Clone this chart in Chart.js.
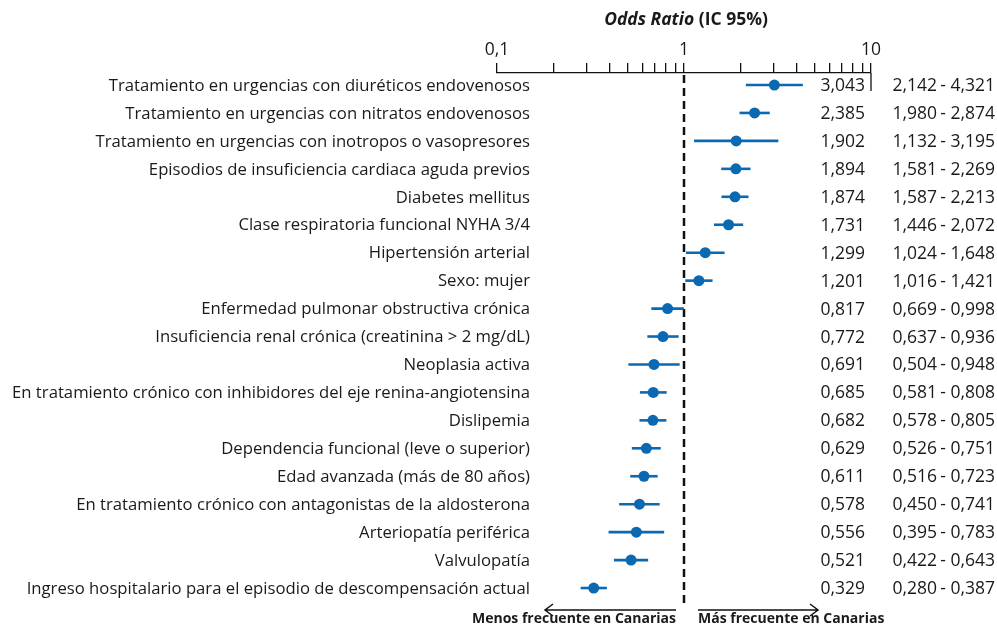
<!DOCTYPE html>
<html>
<head>
<meta charset="utf-8">
<script src="https://cdn.jsdelivr.net/npm/chart.js@4/dist/chart.umd.min.js"></script>
<style>
  html, body { margin: 0; padding: 0; background: #fff; }
  #wrap { width: 997px; height: 628px; position: relative; }
</style>
</head>
<body>
<div id="wrap"><canvas id="forest"></canvas></div>
<script>
// Datos del gráfico
const factores = [
  'Tratamiento en urgencias con diuréticos endovenosos',
  'Tratamiento en urgencias con nitratos endovenosos',
  'Tratamiento en urgencias con inotropos o vasopresores',
  'Episodios de insuficiencia cardiaca aguda previos',
  'Diabetes mellitus',
  'Clase respiratoria funcional NYHA 3/4',
  'Hipertensión arterial',
  'Sexo: mujer',
  'Enfermedad pulmonar obstructiva crónica',
  'Insuficiencia renal crónica (creatinina > 2 mg/dL)',
  'Neoplasia activa',
  'En tratamiento crónico con inhibidores del eje renina-angiotensina',
  'Dislipemia',
  'Dependencia funcional (leve o superior)',
  'Edad avanzada (más de 80 años)',
  'En tratamiento crónico con antagonistas de la aldosterona',
  'Arteriopatía periférica',
  'Valvulopatía',
  'Ingreso hospitalario para el episodio de descompensación actual'
];
const oddsRatio = [3.043, 2.385, 1.902, 1.894, 1.874, 1.731, 1.299, 1.201, 0.817, 0.772, 0.691, 0.685, 0.682, 0.629, 0.611, 0.578, 0.556, 0.521, 0.329];
const icInferior = [2.142, 1.980, 1.132, 1.581, 1.587, 1.446, 1.024, 1.016, 0.669, 0.637, 0.504, 0.581, 0.578, 0.526, 0.516, 0.450, 0.395, 0.422, 0.280];
const icSuperior = [4.321, 2.874, 3.195, 2.269, 2.213, 2.072, 1.648, 1.421, 0.998, 0.936, 0.948, 0.808, 0.805, 0.751, 0.723, 0.741, 0.783, 0.643, 0.387];
const ticksEje = [0.1, 0.2, 0.3, 0.4, 0.5, 0.6, 0.7, 0.8, 0.9, 1, 2, 3, 4, 5, 6, 7, 8, 9, 10];
const ticksConEtiqueta = { 0.1: '0,1', 1: '1', 10: '10' };

const AZUL = '#0a69b0';
const FUENTE = "'Open Sans', 'Noto Sans', sans-serif";

function fmt(v) {
  return v.toFixed(3).replace('.', ',');
}

// Plugin para bigotes, línea de referencia, textos y flechas
const forestPlugin = {
  id: 'forest',
  beforeDatasetsDraw(chart) {
    const { ctx, scales: { x, y }, chartArea } = chart;
    ctx.save();
    // línea discontinua en OR = 1
    const x1 = x.getPixelForValue(1);
    ctx.strokeStyle = '#111';
    ctx.lineWidth = 2.5;
    ctx.setLineDash([8, 5]);
    ctx.beginPath();
    ctx.moveTo(x1, chartArea.top + 2);
    ctx.lineTo(x1, 605);
    ctx.stroke();
    ctx.setLineDash([]);
    // prolongación del tick de 10
    const x10 = x.getPixelForValue(10);
    ctx.lineWidth = 1.3;
    ctx.beginPath();
    ctx.moveTo(x10, chartArea.top);
    ctx.lineTo(x10, chartArea.top + 18);
    ctx.stroke();
    // bigotes IC 95%
    ctx.strokeStyle = AZUL;
    ctx.lineWidth = 2.6;
    icInferior.forEach((lo, i) => {
      const py = y.getPixelForValue(i);
      ctx.beginPath();
      ctx.moveTo(x.getPixelForValue(lo), py);
      ctx.lineTo(x.getPixelForValue(icSuperior[i]), py);
      ctx.stroke();
    });
    ctx.restore();
  },
  afterDatasetsDraw(chart) {
    const { ctx, scales: { x, y } } = chart;
    const x1 = x.getPixelForValue(1);
    ctx.save();
    ctx.fillStyle = '#1a1a1a';
    ctx.textBaseline = 'middle';
    factores.forEach((lab, i) => {
      const py = y.getPixelForValue(i) + 1;
      ctx.font = `16.7px ${FUENTE}`;
      ctx.textAlign = 'right';
      ctx.fillText(lab, 530, py);
      ctx.font = `17.5px ${FUENTE}`;
      ctx.fillText(fmt(oddsRatio[i]), 865, py);
      ctx.fillText(fmt(icInferior[i]), 937, py);
      ctx.textAlign = 'center';
      ctx.fillText('-', 943, py);
      ctx.textAlign = 'right';
      ctx.fillText(fmt(icSuperior[i]), 995, py);
    });

    // título del eje
    const t1 = 'Odds Ratio';
    const t2 = ' (IC 95%)';
    ctx.font = `italic bold 17.5px ${FUENTE}`;
    const w1 = ctx.measureText(t1).width;
    ctx.font = `bold 17.5px ${FUENTE}`;
    const w2 = ctx.measureText(t2).width;
    const tx = x1 + 2 - (w1 + w2) / 2;
    ctx.textAlign = 'left';
    ctx.font = `italic bold 17.5px ${FUENTE}`;
    ctx.fillText(t1, tx, 20);
    ctx.font = `bold 17.5px ${FUENTE}`;
    ctx.fillText(t2, tx + w1, 20);

    // flechas inferiores
    ctx.strokeStyle = '#111';
    ctx.lineWidth = 1.5;
    const ya = 610;
    ctx.beginPath();
    ctx.moveTo(x1 - 8, ya);
    ctx.lineTo(545, ya);
    ctx.moveTo(553, ya - 6);
    ctx.lineTo(545, ya);
    ctx.lineTo(553, ya + 6);
    ctx.moveTo(x1 + 14, ya);
    ctx.lineTo(818, ya);
    ctx.moveTo(810, ya - 6);
    ctx.lineTo(818, ya);
    ctx.lineTo(810, ya + 6);
    ctx.stroke();

    ctx.font = `bold 14px ${FUENTE}`;
    ctx.textAlign = 'right';
    ctx.fillText('Menos frecuente en Canarias', x1 - 8, 619);
    ctx.textAlign = 'left';
    ctx.fillText('Más frecuente en Canarias', x1 + 14, 619);
    ctx.restore();
  }
};

const ctx = document.getElementById('forest').getContext('2d');
new Chart(ctx, {
  type: 'scatter',
  data: {
    datasets: [{
      data: oddsRatio.map((v, i) => ({ x: v, y: i })),
      backgroundColor: AZUL,
      borderWidth: 0,
      pointRadius: 5.5,
      pointHoverRadius: 5.5
    }]
  },
  options: {
    responsive: true,
    maintainAspectRatio: false,
    animation: false,
    layout: { padding: { left: 497, right: 126, top: 0, bottom: 26 } },
    plugins: { legend: { display: false }, tooltip: { enabled: false } },
    scales: {
      x: {
        type: 'logarithmic',
        position: 'top',
        min: 0.1,
        max: 10,
        afterBuildTicks: scale => {
          scale.ticks = ticksEje.map(v => ({ value: v }));
        },
        afterFit: scale => { scale.height = 73; },
        border: { display: true, color: '#111', width: 1.3 },
        grid: { drawOnChartArea: false, drawTicks: true, tickLength: 10, color: '#111', lineWidth: 1.3 },
        ticks: {
          autoSkip: false,
          maxRotation: 0,
          padding: 2,
          color: '#1a1a1a',
          font: { family: FUENTE, size: 17.5 },
          callback: v => ticksConEtiqueta[v] || ''
        }
      },
      y: {
        type: 'linear',
        display: false,
        reverse: true,
        min: -0.43,
        max: 18.5
      }
    }
  },
  plugins: [forestPlugin]
});
</script>
</body>
</html>
